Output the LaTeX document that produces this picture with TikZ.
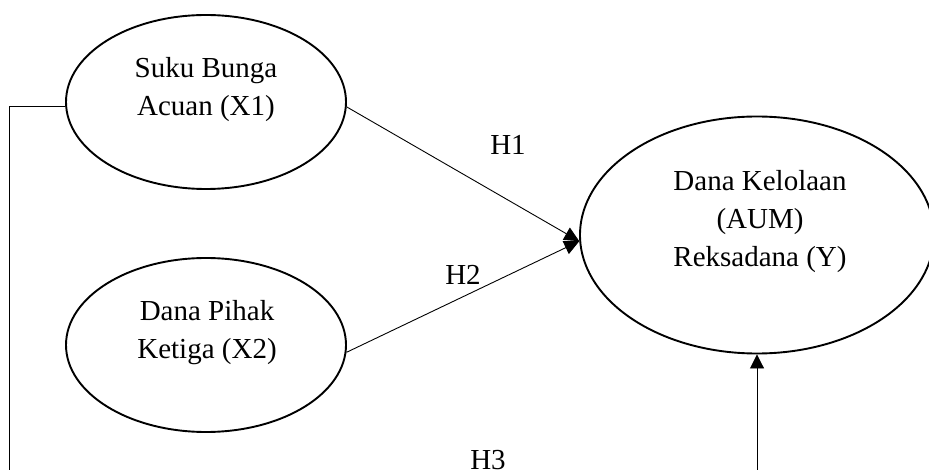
\documentclass[tikz,border=0pt]{standalone}
\usepackage{fontspec}
\setmainfont{Liberation Serif}
\usetikzlibrary{arrows.meta,shapes.geometric}
\begin{document}
\begin{tikzpicture}[x=1pt,y=-1pt,
  latent/.style={draw,ellipse,line width=1.9pt,inner sep=0pt},
  txt/.style={align=center,font=\fontsize{29}{38}\selectfont,inner sep=0pt},
  lbl/.style={font=\fontsize{29}{38}\selectfont,inner sep=0pt},
  conn/.style={line width=0.9pt},
  tip/.style={-{Triangle[length=15pt,width=14pt]}}]
\useasboundingbox (0,0) rectangle (929,470);
\clip (0,0) rectangle (929,470);
\node[latent,minimum width=280pt,minimum height=174pt] (x1) at (206,102) {};
\node[latent,minimum width=280pt,minimum height=174pt] (x2) at (206,345) {};
\node[latent,minimum width=354pt,minimum height=237pt] (y) at (757,235) {};
\node[txt] (tx1) at (206,90) {Suku Bunga\\Acuan (X1)};
\node[txt] (tx2) at (207,333) {Dana Pihak\\Ketiga (X2)};
\node[txt] (ty) at (760,222) {Dana Kelolaan\\(AUM)\\Reksadana (Y)};
\node[lbl] (h1) at (508,145) {H1};
\node[lbl] (h2) at (463,275) {H2};
\node[lbl,anchor=base] (h3) at (488,469.5) {H3};
\coordinate (bl) at (9,495);
\draw[conn,tip] (x1.-2) -- (y.182);
\draw[conn,tip] (x2.-3.3) -- (y.182);
\draw[conn,-{Triangle[length=14pt,width=14pt]}] (x1.182) -| (bl) -| (y.south);
\end{tikzpicture}
\end{document}
